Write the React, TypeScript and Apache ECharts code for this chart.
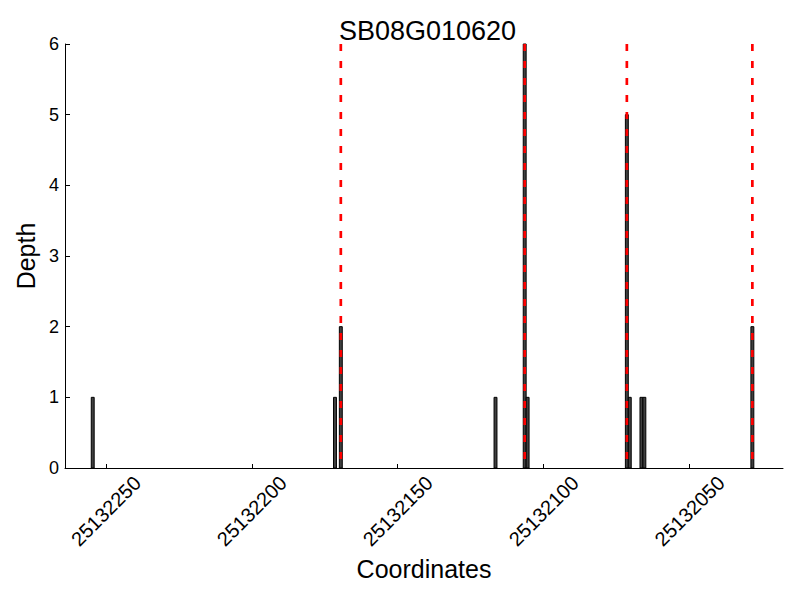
import React, { useEffect, useRef } from "react";
import * as echarts from "echarts";

const titleText = "SB08G010620";
const positions = [25132255, 25132172, 25132170, 25132117, 25132107, 25132106, 25132072, 25132071, 25132067, 25132066, 25132029];
const depths = [1, 1, 2, 1, 6, 1, 5, 1, 1, 1, 2];
const markerPositions = [25132170, 25132107, 25132072, 25132029];
const xTicks = [25132050, 25132100, 25132150, 25132200, 25132250];
const xMin = 25132018;
const xMax = 25132264;

const FONT = "'Liberation Sans', Arial, sans-serif";

export default function App() {
  const ref = useRef<HTMLDivElement>(null);
  useEffect(() => {
    if (!ref.current) return;
    const chart = echarts.init(ref.current, null, { renderer: "svg" });
    const barData = positions.map((p, i) => [p, depths[i]]);
    const lineSeries = markerPositions.map((m) => ({
      type: "line",
      data: [
        [m - 0.5, 6],
        [m - 0.5, 0],
      ],
      symbol: "none",
      z: 5,
      silent: true,
      lineStyle: { color: "#ff0000", width: 2.7, type: [7, 10] },
    }));
    chart.setOption({
      animation: false,
      backgroundColor: "#ffffff",
      title: {
        text: titleText,
        left: 422.5,
        top: 12,
        textAlign: "center",
        textStyle: { fontFamily: FONT, fontSize: 27, fontWeight: "normal", color: "#000" },
      },
      grid: { left: 65, right: 17, top: 44, bottom: 132 },
      xAxis: {
        type: "value",
        inverse: true,
        min: xMin,
        max: xMax,
        name: "Coordinates",
        nameLocation: "middle",
        nameGap: 88,
        nameTextStyle: { fontFamily: FONT, fontSize: 25, color: "#000" },
        axisLine: { show: true, onZero: false, lineStyle: { color: "#000", width: 1 } },
        axisTick: { show: true, inside: true, length: 4, lineStyle: { color: "#000" }, customValues: xTicks },
        axisLabel: {
          rotate: 45,
          align: "center",
          verticalAlign: "middle",
          margin: 43,
          customValues: xTicks,
          fontFamily: FONT,
          fontSize: 20,
          color: "#000",
          formatter: (v: number) => String(v),
        },
        splitLine: { show: false },
      },
      yAxis: {
        type: "value",
        min: 0,
        max: 6,
        interval: 1,
        name: "Depth",
        nameLocation: "middle",
        nameGap: 26,
        nameTextStyle: { fontFamily: FONT, fontSize: 25, color: "#000" },
        axisLine: { show: true, lineStyle: { color: "#000", width: 1 } },
        axisTick: { show: true, inside: true, length: 5, lineStyle: { color: "#000" } },
        axisLabel: { margin: 6, fontFamily: FONT, fontSize: 18, color: "#000" },
        splitLine: { show: false },
      },
      series: [
        {
          type: "custom",
          data: barData,
          z: 2,
          renderItem: (params: any, api: any) => {
            const p = api.value(0);
            const h = api.value(1);
            const a = api.coord([p, h]);
            const b = api.coord([p - 1, 0]);
            const x0 = Math.min(a[0], b[0]);
            const w = Math.abs(b[0] - a[0]);
            return {
              type: "rect",
              shape: { x: x0, y: a[1], width: w, height: b[1] - a[1] },
              style: { fill: "#404040", stroke: "#000", lineWidth: 1 },
            };
          },
        },
        ...lineSeries,
      ],
    });
    return () => chart.dispose();
  }, []);
  return <div ref={ref} style={{ width: 800, height: 600, position: "absolute", left: 0, top: 0 }} />;
}
